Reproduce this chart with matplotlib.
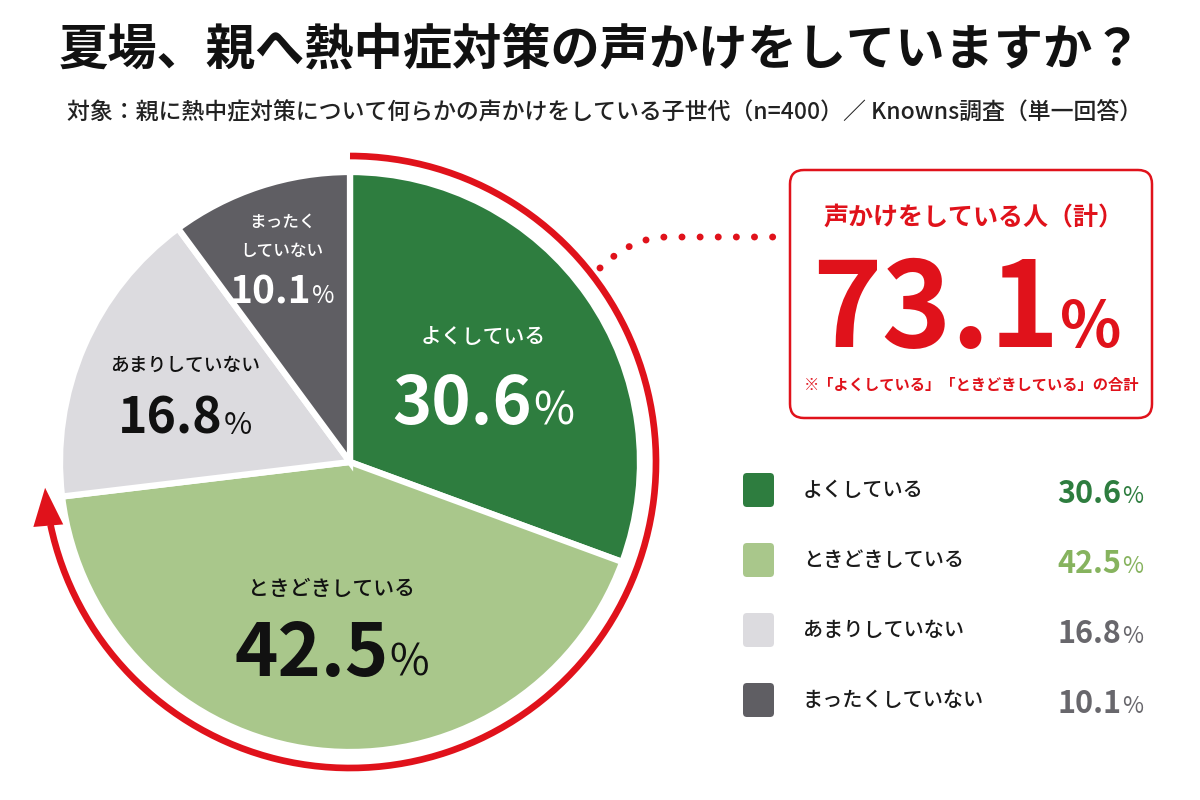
import matplotlib
matplotlib.use("Agg")
import matplotlib.pyplot as plt
from matplotlib.patches import Arc, Polygon, FancyBboxPatch, PathPatch
from matplotlib.path import Path
import numpy as np

plt.rcParams['font.family'] = ['Noto Sans CJK JP', 'DejaVu Sans']

# data
labels = ['よくしている', 'ときどきしている', 'あまりしていない', 'まったくしていない']
pie_labels = ['よくしている', 'ときどきしている', 'あまりしていない', 'まったく\nしていない']
shares = [30.6, 42.5, 16.8, 10.1]
total_share = sum(shares[:2])

title = '夏場、親へ熱中症対策の声かけをしていますか？'
subtitle = '対象：親に熱中症対策について何らかの声かけをしている子世代（n=400）／ Knowns調査（単一回答）'
total_label = '声かけをしている人（計）'
total_note = '※「よくしている」「ときどきしている」の合計'

# styles
red = '#e0121b'
slice_colors = ['#2e7d3f', '#a9c78b', '#dcdbdf', '#5f5e63']
value_colors = ['#2e7d3f', '#86b35e', '#68676c', '#68676c']
inner_colors = ['white', '#111111', '#111111', 'white']


def Y(py):
    # pixel row (from top) -> data y
    return 800 - py


fig = plt.figure(figsize=(12, 8), dpi=100)
ax = fig.add_axes([0, 0, 1, 1])
renderer = fig.canvas.get_renderer()

cx, cy, R = 350, Y(462), 290
wedges, _ = ax.pie(shares, colors=slice_colors, startangle=90, counterclock=False,
                   center=(cx, cy), radius=R,
                   wedgeprops=dict(edgecolor='white', linewidth=4.5))
ax.set_xlim(0, 1200)
ax.set_ylim(0, 800)
ax.axis('off')


def num_pct(x, y, num, nsize, psize, color, ha='center', pweight='normal'):
    t1 = ax.text(x, y, num, fontsize=nsize, fontweight='bold', color=color,
                 ha='left', va='baseline')
    t2 = ax.text(x, y, '%', fontsize=psize, fontweight=pweight, color=color,
                 ha='left', va='baseline')
    w1 = t1.get_window_extent(renderer).width
    w2 = t2.get_window_extent(renderer).width
    gap = 1
    tot = w1 + gap + w2
    x0 = x - tot / 2 if ha == 'center' else x - tot
    t1.set_x(x0)
    t2.set_x(x0 + w1 + gap)


# labels inside the pie
label_r = [0.56, 0.545, 0.62, 0.75]
label_dy = [32, 30, 25, 19]
base_dy = [55, 57, 43, 48]
num_size = [48, 53, 36, 28]
pct_size = [32, 31, 22, 17.5]
lab_size = [15, 15, 13.5, 12]
for i, w in enumerate(wedges):
    mid = np.deg2rad((w.theta1 + w.theta2) / 2)
    gx = cx + label_r[i] * R * np.cos(mid)
    gy = cy + label_r[i] * R * np.sin(mid)
    ax.text(gx, gy + label_dy[i], pie_labels[i], ha='center', va='center',
            fontsize=lab_size[i], fontweight='medium', color=inner_colors[i],
            linespacing=1.75)
    num_pct(gx, gy - base_dy[i], f'{shares[i]:.1f}', num_size[i], pct_size[i],
            inner_colors[i])

# red arrow arc around the first two slices
ra = 306
tip = 90 - 360 * total_share / 100 - 2
ax.add_patch(Arc((cx, cy), 2 * ra, 2 * ra, theta1=tip + 7, theta2=90,
                 color=red, lw=4.8, capstyle='butt'))
t = np.deg2rad(tip)
tip_pt = np.array([cx + ra * np.cos(t), cy + ra * np.sin(t)])
d = np.array([np.sin(t), -np.cos(t)])
n = np.array([-d[1], d[0]])
head_len, head_w = 38, 30
base = tip_pt - head_len * d
ax.add_patch(Polygon([tip_pt, base + n * head_w / 2, base - n * head_w / 2],
                     closed=True, color=red, lw=0))

# dotted connector
conn = Path([(600, Y(268)), (632, Y(237)), (668, Y(237)), (787, Y(237))],
            [Path.MOVETO, Path.CURVE3, Path.CURVE3, Path.LINETO])
ax.add_patch(PathPatch(conn, fill=False, ec=red, lw=5, linestyle=(0, (0.01, 2.6)),
                       capstyle='round'))

# total box
ax.add_patch(FancyBboxPatch((790, Y(418)), 362, 248,
                            boxstyle='round,pad=0,rounding_size=14',
                            fc='white', ec=red, lw=1.8, zorder=3))
ax.text(974, Y(218), total_label, ha='center', va='center', fontsize=18,
        fontweight='bold', color=red, zorder=4)
num_pct(967, Y(347), f'{total_share:.1f}', 85, 46, red, pweight='bold')
ax.text(972, Y(385), total_note, ha='center', va='center', fontsize=11,
        fontweight='bold', color=red, zorder=4)

# legend
rows = [490, 560, 630, 700]
for i, lab in enumerate(labels):
    ry = Y(rows[i])
    ax.add_patch(FancyBboxPatch((743, ry - 17), 31, 34,
                                boxstyle='round,pad=0,rounding_size=4',
                                fc=slice_colors[i], ec='none'))
    ax.text(803, ry, lab, ha='left', va='center', fontsize=14.5,
            fontweight='medium', color='#1a1a1a')
    num_pct(1143, ry - 13, f'{shares[i]:.1f}', 22, 16.5, value_colors[i], ha='right')

# titles
ax.text(600, Y(50), title, ha='center', va='center', fontsize=35.5,
        fontweight='bold', color='#111111')
ax.text(605, Y(112), subtitle, ha='center', va='center', fontsize=16.5,
        fontweight='medium', color='#222222')

fig.savefig('out.png', dpi=100, facecolor='white')
